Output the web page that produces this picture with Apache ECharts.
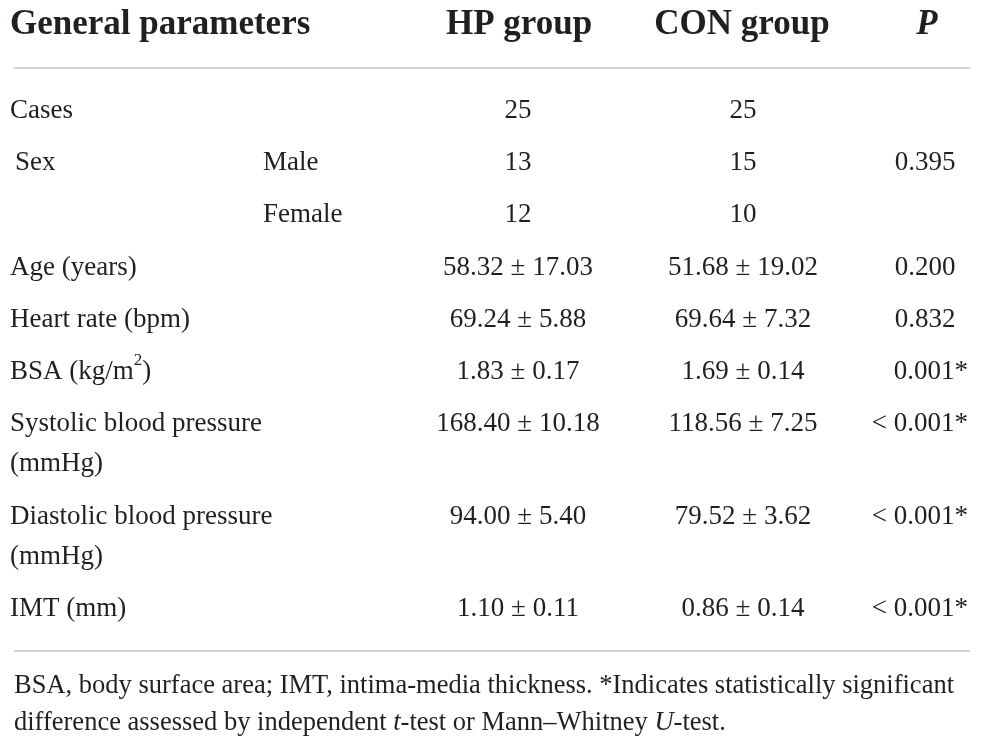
<!DOCTYPE html>
<html>
<head>
<meta charset="utf-8">
<script src="https://cdn.jsdelivr.net/npm/echarts@6/dist/echarts.min.js"></script>
<style>
  html, body { margin: 0; padding: 0; background: #fff; }
  #main { width: 983px; height: 746px; }
</style>
</head>
<body>
<div id="main"></div>
<script>
// table content
var headers = ['General parameters', 'HP group', 'CON group', 'P'];
var rowLabels = ['Cases', 'Sex', '', 'Age (years)', 'Heart rate (bpm)', 'BSA (kg/m{sup|2})',
    'Systolic blood pressure\n(mmHg)', 'Diastolic blood pressure\n(mmHg)', 'IMT (mm)'];
var subLabels = ['', 'Male', 'Female', '', '', '', '', '', ''];
var hpValues = ['25', '13', '12', '58.32 ± 17.03', '69.24 ± 5.88', '1.83 ± 0.17',
    '168.40 ± 10.18', '94.00 ± 5.40', '1.10 ± 0.11'];
var conValues = ['25', '15', '10', '51.68 ± 19.02', '69.64 ± 7.32', '1.69 ± 0.14',
    '118.56 ± 7.25', '79.52 ± 3.62', '0.86 ± 0.14'];
var pValues = ['', '0.395', '', '0.200', '0.832', '0.001*', '< 0.001*', '< 0.001*', '< 0.001*'];
var footnote = [
    'BSA, body surface area; IMT, intima-media thickness. *Indicates statistically significant',
    'difference assessed by independent {i|t}-test or Mann–Whitney {i|U}-test.'
];

// layout
var FONT = '"Liberation Serif", "DejaVu Serif", serif';
var BODY = 27;
var rowY = [111, 163, 215, 268, 320, 372, 424, 517, 609];
var colX = {label: 10, sub: 263, hp: 518, con: 743, p: 968, pc: 925};

function txt(s, x, y, opts) {
    opts = opts || {};
    var size = opts.size || BODY;
    return {
        type: 'text',
        style: {
            text: s,
            x: x,
            y: y,
            fill: '#231f20',
            font: (opts.weight || 'normal') + ' ' + size + 'px ' + FONT,
            textAlign: opts.align || 'left',
            textVerticalAlign: 'middle',
            lineHeight: opts.lineHeight || 40,
            rich: {
                sup: {fontSize: 17, fontFamily: FONT, verticalAlign: 'top', padding: [0, 0, 2, 0], fill: '#231f20'},
                i: {fontStyle: 'italic', fontSize: size, fontFamily: FONT, fill: '#231f20'}
            }
        }
    };
}

var els = [];
els.push(txt(headers[0], 10, 25, {weight: 'bold', size: 35}));
els.push(txt(headers[1], 519, 25, {weight: 'bold', size: 35, align: 'center'}));
els.push(txt(headers[2], 742, 25, {weight: 'bold', size: 35, align: 'center'}));
els.push({
    type: 'text',
    style: {text: headers[3], x: 927, y: 25, fill: '#231f20',
        font: 'italic bold 35px ' + FONT, textAlign: 'center', textVerticalAlign: 'middle'}
});
els.push({type: 'line', shape: {x1: 14, y1: 68, x2: 970, y2: 68}, style: {stroke: '#c4c4c4', lineWidth: 1.5}});
els.push({type: 'line', shape: {x1: 14, y1: 651, x2: 970, y2: 651}, style: {stroke: '#c4c4c4', lineWidth: 1.5}});

rowLabels.forEach(function (lab, i) {
    var y = rowY[i];
    if (lab) {
        var x = lab === 'Sex' ? 15 : colX.label;
        var multi = lab.indexOf('\n') >= 0;
        els.push(txt(lab, x, multi ? y + 20 : y, {}));
    }
    if (subLabels[i]) els.push(txt(subLabels[i], colX.sub, y, {}));
    els.push(txt(hpValues[i], colX.hp, y, {align: 'center'}));
    els.push(txt(conValues[i], colX.con, y, {align: 'center'}));
    if (pValues[i]) {
        if (pValues[i].indexOf('*') >= 0) els.push(txt(pValues[i], colX.p, y, {align: 'right'}));
        else els.push(txt(pValues[i], colX.pc, y, {align: 'center'}));
    }
});

footnote.forEach(function (line, i) {
    els.push(txt(line, 14, 686 + i * 37, {size: 26.5}));
});

var chart = echarts.init(document.getElementById('main'));
chart.setOption({
    backgroundColor: '#fff',
    animation: false,
    graphic: {elements: els}
});
</script>
</body>
</html>
